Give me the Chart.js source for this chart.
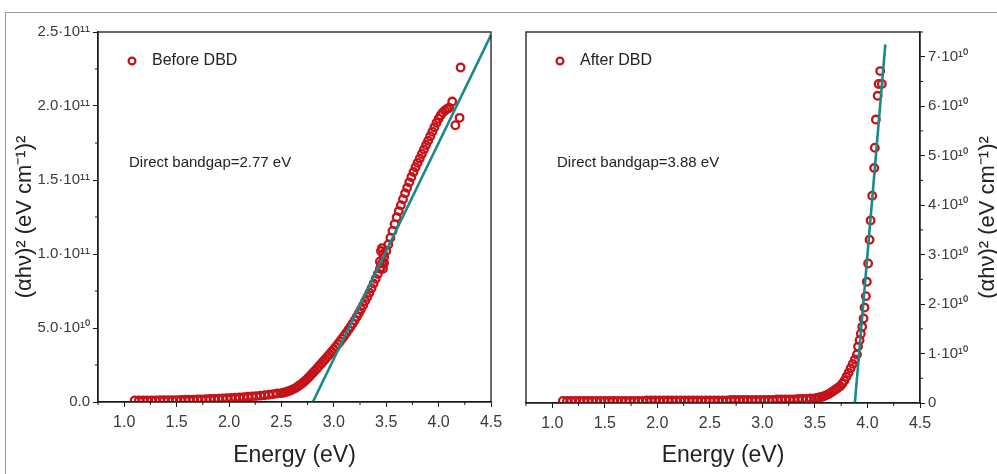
<!DOCTYPE html>
<html>
<head>
<meta charset="utf-8">
<script src="https://cdn.jsdelivr.net/npm/chart.js@4"></script>
<style>
html, body { margin: 0; padding: 0; background: #fff; }
#wrap { position: relative; width: 997px; height: 474px; overflow: hidden; }
#frame { position: absolute; left: 5px; top: 12px; width: 1100px; height: 600px; border-left: 1px solid #9a9a9a; border-top: 1px solid #9a9a9a; }
#left { position: absolute; left: 0; top: 0; }
#right { position: absolute; left: 497px; top: 0; }
</style>
</head>
<body>
<div id="wrap">
  <div id="frame"></div>
  <canvas id="left" width="520" height="474"></canvas>
  <canvas id="right" width="500" height="474"></canvas>
</div>
<script>
// ticks
const energyTicks = [1.0, 1.5, 2.0, 2.5, 3.0, 3.5, 4.0, 4.5];
const energyMinor = [0.75, 1.25, 1.75, 2.25, 2.75, 3.25, 3.75, 4.25];
const leftYTicks = [0, 5e10, 1e11, 1.5e11, 2e11, 2.5e11];
const leftYLabels = ['0.0', '5.0·10¹⁰', '1.0·10¹¹', '1.5·10¹¹', '2.0·10¹¹', '2.5·10¹¹'];
const leftYMinor = [2.5e10, 7.5e10, 1.25e11, 1.75e11, 2.25e11];
const rightYTicks = [0, 1e10, 2e10, 3e10, 4e10, 5e10, 6e10, 7e10];
const rightYLabels = ['0', '1·10¹⁰', '2·10¹⁰', '3·10¹⁰', '4·10¹⁰', '5·10¹⁰', '6·10¹⁰', '7·10¹⁰'];
const rightYMinor = [0.5e10, 1.5e10, 2.5e10, 3.5e10, 4.5e10, 5.5e10, 6.5e10, 7.5e10];
const yTitle = '(αhν)² (eV cm⁻¹)²';

// Before DBD : energy (eV) and (ahv)^2 in units of 1e10
const beforeE = [1.10, 1.14, 1.18, 1.22, 1.26, 1.30, 1.34, 1.38, 1.42, 1.46, 1.50, 1.54, 1.58, 1.62, 1.66, 1.70, 1.74, 1.78, 1.82, 1.86,
  1.90, 1.94, 1.98, 2.02, 2.06, 2.10, 2.14, 2.18, 2.22, 2.26, 2.30, 2.34, 2.38, 2.42, 2.46,
  2.50, 2.52, 2.54, 2.56, 2.58, 2.60, 2.62, 2.64, 2.66, 2.68, 2.70, 2.72, 2.74, 2.76, 2.78, 2.80, 2.82, 2.84, 2.86, 2.88,
  2.90, 2.92, 2.94, 2.96, 2.98, 3.00, 3.02, 3.04, 3.06, 3.08, 3.10, 3.12, 3.14, 3.16, 3.18, 3.20, 3.22, 3.24, 3.26, 3.28,
  3.30, 3.32, 3.34, 3.36, 3.38, 3.40, 3.42, 3.44, 3.46, 3.48, 3.50, 3.52, 3.54, 3.56, 3.58, 3.60, 3.62, 3.64, 3.66, 3.68,
  3.70, 3.72, 3.74, 3.76, 3.78, 3.80, 3.82, 3.84, 3.86, 3.88, 3.90, 3.92, 3.94, 3.96, 3.98, 4.00, 4.02, 4.04, 4.06, 4.08, 4.10,
  3.44, 3.45, 3.46, 3.47, 3.48, 3.47, 3.45, 4.13, 4.16, 4.20, 4.21];
const beforeA = [0.10, 0.10, 0.10, 0.11, 0.11, 0.11, 0.12, 0.12, 0.13, 0.13, 0.13, 0.14, 0.15, 0.15, 0.16, 0.17, 0.18, 0.19, 0.20, 0.21,
  0.22, 0.24, 0.25, 0.27, 0.29, 0.30, 0.32, 0.35, 0.37, 0.40, 0.43, 0.46, 0.49, 0.53, 0.57,
  0.60, 0.63, 0.67, 0.71, 0.76, 0.82, 0.89, 0.97, 1.06, 1.16, 1.27, 1.39, 1.52, 1.66, 1.81, 1.96, 2.11, 2.27, 2.43, 2.59,
  2.75, 2.91, 3.07, 3.23, 3.40, 3.57, 3.74, 3.92, 4.10, 4.29, 4.48, 4.68, 4.88, 5.09, 5.30, 5.52, 5.76, 6.01, 6.27, 6.54,
  6.82, 7.10, 7.39, 7.69, 8.00, 8.32, 8.65, 9.00, 9.38, 9.78, 10.20, 10.65, 11.10, 11.56, 12.02, 12.48, 12.90, 13.30, 13.70, 14.10,
  14.48, 14.84, 15.20, 15.54, 15.86, 16.16, 16.46, 16.76, 17.06, 17.36, 17.66, 17.96, 18.26, 18.56, 18.86, 19.14, 19.38, 19.56, 19.70, 19.80, 19.88,
  9.50, 10.20, 10.40, 10.00, 9.40, 9.00, 9.10, 20.30, 18.70, 19.20, 22.60];

// After DBD
const afterE = [1.10, 1.14, 1.18, 1.22, 1.26, 1.30, 1.34, 1.38, 1.42, 1.46, 1.50, 1.54, 1.58, 1.62, 1.66, 1.70, 1.74, 1.78, 1.82, 1.86,
  1.90, 1.94, 1.98, 2.02, 2.06, 2.10, 2.14, 2.18, 2.22, 2.26, 2.30, 2.34, 2.38, 2.42, 2.46, 2.50, 2.54, 2.58, 2.62, 2.66,
  2.70, 2.74, 2.78, 2.82, 2.86, 2.90, 2.94, 2.98, 3.02, 3.06, 3.10, 3.14, 3.18, 3.22, 3.26, 3.30, 3.34, 3.38, 3.42, 3.46, 3.50,
  3.52, 3.54, 3.56, 3.58, 3.60, 3.62, 3.64, 3.66, 3.68, 3.70, 3.72, 3.74, 3.76, 3.78, 3.80, 3.82, 3.84, 3.86, 3.88, 3.90,
  3.910, 3.925, 3.937, 3.950, 3.963, 3.972, 3.985, 3.994, 4.006, 4.020, 4.030, 4.045, 4.064, 4.070, 4.080, 4.097, 4.106, 4.137, 4.121];
const afterA = [0.04, 0.04, 0.04, 0.04, 0.04, 0.04, 0.04, 0.04, 0.04, 0.04, 0.04, 0.04, 0.04, 0.04, 0.04, 0.04, 0.04, 0.04, 0.04, 0.04,
  0.05, 0.05, 0.05, 0.05, 0.05, 0.05, 0.05, 0.05, 0.05, 0.05, 0.05, 0.05, 0.05, 0.05, 0.05, 0.05, 0.05, 0.05, 0.05, 0.05,
  0.06, 0.06, 0.06, 0.06, 0.06, 0.06, 0.06, 0.06, 0.06, 0.06, 0.06, 0.07, 0.07, 0.07, 0.07, 0.07, 0.08, 0.08, 0.08, 0.09, 0.09,
  0.10, 0.11, 0.12, 0.13, 0.15, 0.17, 0.19, 0.22, 0.25, 0.28, 0.31, 0.34, 0.39, 0.45, 0.53, 0.61, 0.70, 0.79, 0.88, 0.98,
  1.14, 1.27, 1.40, 1.54, 1.71, 1.93, 2.16, 2.45, 2.82, 3.30, 3.69, 4.19, 4.75, 5.16, 5.73, 6.21, 6.45, 6.45, 6.71];

// linear fits (Tauc extrapolation)
const beforeFitE = [2.80, 4.50];
const beforeFitA = [0, 24.8];
const afterFitE = [3.88, 4.17];
const afterFitA = [0, 7.25];

const RED = '#c41218';
const TEAL = '#178a8a';
const FONT = '"Liberation Sans", Arial, sans-serif';

const toPts = (xs, ys) => xs.map((x, i) => ({ x: x, y: ys[i] * 1e10 }));

const framePlugin = {
  id: 'frame',
  afterDraw(chart, args, o) {
    const { ctx, chartArea: a, scales } = chart;
    ctx.save();
    ctx.strokeStyle = '#1a1a1a';
    ctx.lineWidth = 1.3;
    ctx.strokeRect(a.left, a.top, a.right - a.left, a.bottom - a.top);
    // minor ticks
    ctx.lineWidth = 1;
    ctx.beginPath();
    o.xMinor.forEach(v => {
      const x = scales.x.getPixelForValue(v);
      ctx.moveTo(x, a.bottom); ctx.lineTo(x, a.bottom + 3);
    });
    o.yMinor.forEach(v => {
      const y = scales.y.getPixelForValue(v);
      if (o.side === 'left') { ctx.moveTo(a.left - 3, y); ctx.lineTo(a.left, y); }
      else { ctx.moveTo(a.right, y); ctx.lineTo(a.right + 3, y); }
    });
    ctx.stroke();
    // legend
    ctx.strokeStyle = RED;
    ctx.lineWidth = 2.2;
    ctx.beginPath();
    ctx.arc(a.left + o.legX, a.top + o.legY, 3.4, 0, Math.PI * 2);
    ctx.stroke();
    ctx.fillStyle = '#222';
    ctx.textBaseline = 'middle';
    ctx.font = '16px ' + FONT;
    ctx.fillText(o.legend, a.left + o.legX + 20, a.top + o.legY);
    ctx.font = '15px ' + FONT;
    ctx.fillText(o.note, a.left + o.noteX, a.top + o.noteY);
    // y title on the right side, reading bottom to top
    if (o.side === 'right') {
      ctx.translate(a.right + 68, (a.top + a.bottom) / 2);
      ctx.rotate(-Math.PI / 2);
      ctx.textAlign = 'center';
      ctx.font = '22px ' + FONT;
      ctx.fillText(yTitle, 0, 0);
    }
    ctx.restore();
  }
};

function makeChart(id, opt) {
  return new Chart(document.getElementById(id), {
    type: 'scatter',
    data: {
      datasets: [
        {
          label: opt.legend + ' fit',
          type: 'line',
          data: opt.fit,
          borderColor: TEAL,
          borderWidth: 2.6,
          pointRadius: 0,
          fill: false,
          order: 0
        },
        {
          label: opt.legend,
          data: opt.points,
          pointStyle: 'circle',
          pointRadius: 3.8,
          pointBorderWidth: 2.3,
          pointBorderColor: RED,
          pointBackgroundColor: 'rgba(0,0,0,0)',
          borderColor: RED,
          backgroundColor: 'rgba(0,0,0,0)',
          order: 1
        }
      ]
    },
    options: {
      responsive: false,
      animation: false,
      layout: { padding: opt.padding },
      plugins: {
        legend: { display: false },
        tooltip: { enabled: false },
        frame: {
          side: opt.side, xMinor: energyMinor, yMinor: opt.yMinor,
          legend: opt.legend, note: opt.note,
          legX: 34, legY: 29, noteX: 31, noteY: 131
        }
      },
      scales: {
        x: {
          type: 'linear',
          min: 0.75,
          max: 4.5,
          afterBuildTicks: s => { s.ticks = energyTicks.map(v => ({ value: v })); },
          afterFit: s => { s.height = opt.xHeight; },
          grid: { drawOnChartArea: false, drawTicks: true, tickLength: 5, color: '#1a1a1a' },
          border: { display: true, color: '#1a1a1a', width: 1.3 },
          ticks: {
            padding: 6,
            color: '#3a3a3a',
            font: { family: FONT, size: 16 },
            callback: v => v.toFixed(1)
          },
          title: {
            display: true,
            text: 'Energy (eV)',
            color: '#222',
            font: { family: FONT, size: 23 },
            padding: { top: 0, bottom: 5 }
          }
        },
        y: {
          type: 'linear',
          position: opt.side,
          min: 0,
          max: opt.yMax,
          afterBuildTicks: s => { s.ticks = opt.yTicks.map(v => ({ value: v })); },
          afterFit: s => { s.width = opt.yWidth; },
          grid: { drawOnChartArea: false, drawTicks: true, tickLength: 5, color: '#1a1a1a' },
          border: { display: true, color: '#1a1a1a', width: 1.3 },
          ticks: {
            padding: 3,
            color: '#3a3a3a',
            font: { family: FONT, size: 15 },
            callback: v => opt.yLabels[opt.yTicks.indexOf(v)]
          },
          title: {
            display: opt.side === 'left',
            text: yTitle,
            color: '#222',
            font: { family: FONT, size: 22 },
            padding: { top: 12, bottom: 0 }
          }
        }
      }
    },
    plugins: [framePlugin]
  });
}

makeChart('left', {
  side: 'left',
  legend: 'Before DBD',
  note: 'Direct bandgap=2.77 eV',
  points: toPts(beforeE, beforeA),
  fit: toPts(beforeFitE, beforeFitA),
  yTicks: leftYTicks, yLabels: leftYLabels, yMinor: leftYMinor,
  yMax: 2.5e11,
  padding: { top: 32, right: 29, left: 0, bottom: 0 },
  yWidth: 98, xHeight: 72
});

makeChart('right', {
  side: 'right',
  legend: 'After DBD',
  note: 'Direct bandgap=3.88 eV',
  points: toPts(afterE, afterA),
  fit: toPts(afterFitE, afterFitA),
  yTicks: rightYTicks, yLabels: rightYLabels, yMinor: rightYMinor,
  yMax: 7.5e10,
  padding: { top: 32, right: 0, left: 29, bottom: 0 },
  yWidth: 77, xHeight: 71
});
</script>
</body>
</html>
